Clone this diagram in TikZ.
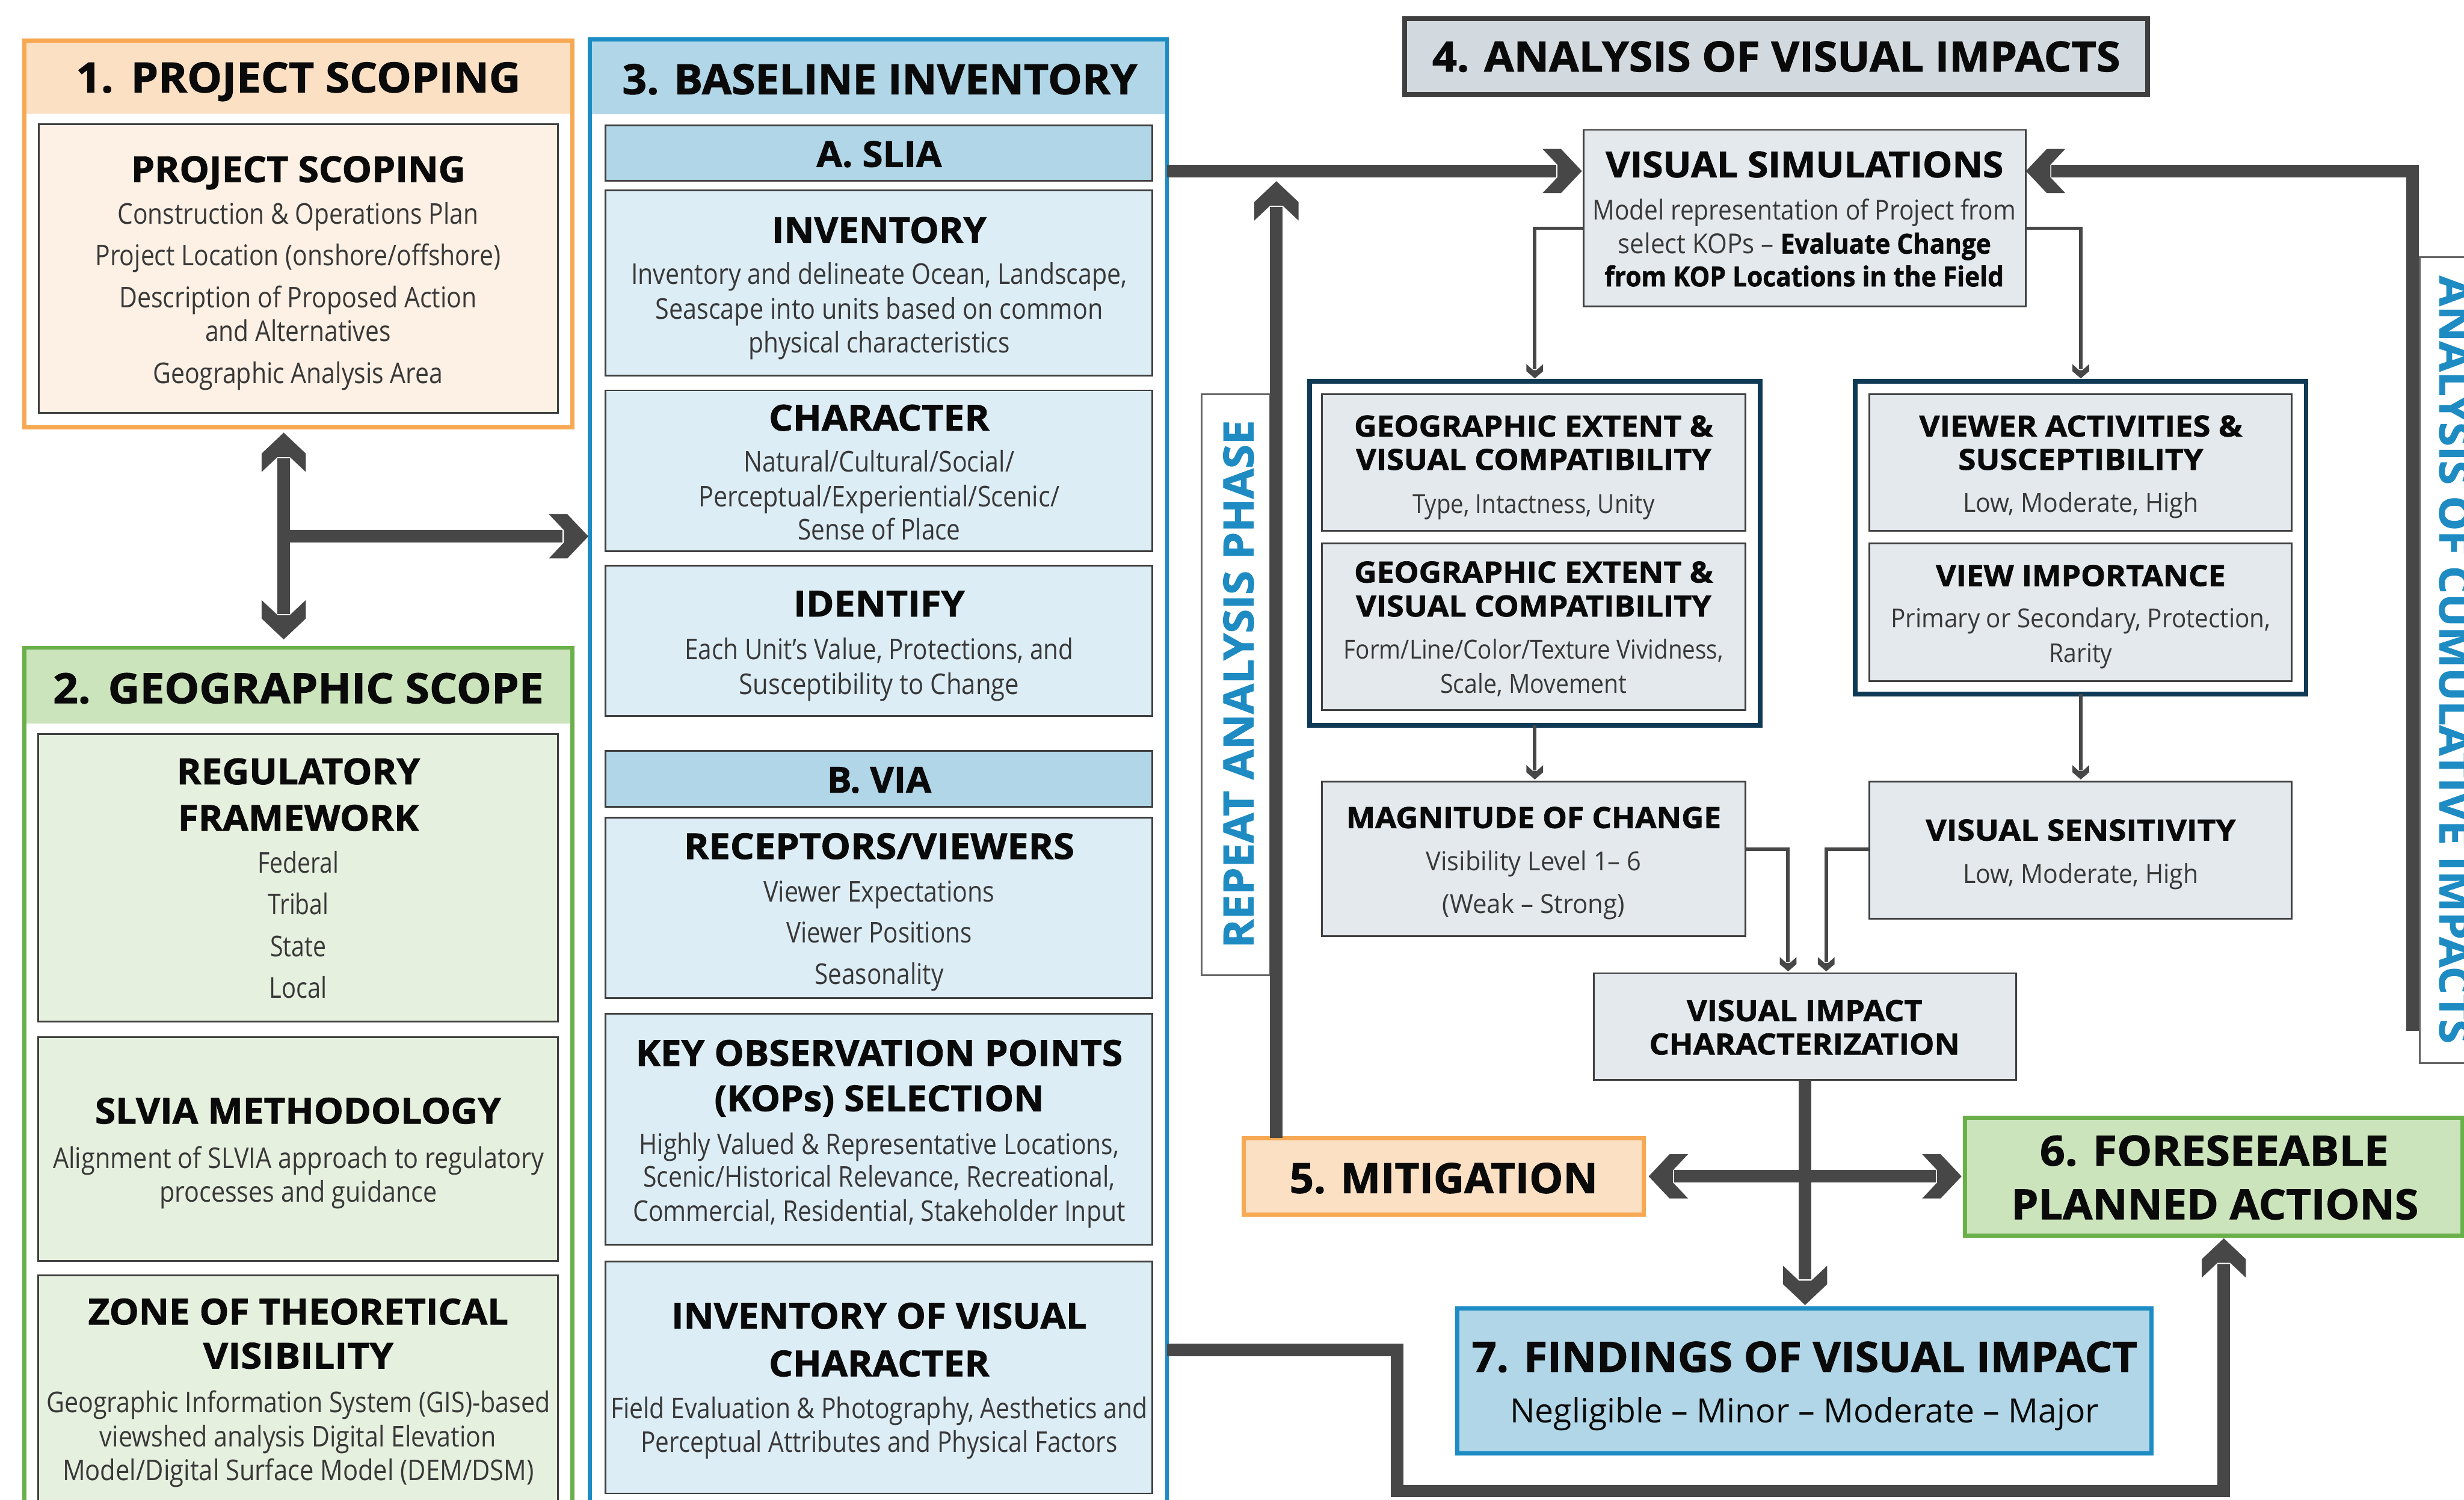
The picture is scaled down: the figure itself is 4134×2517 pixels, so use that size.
\documentclass[tikz,border=0pt]{standalone}
\usepackage{fontspec}
\setmainfont{Open Sans}[BoldFeatures={FakeBold=1.4}]
\usepackage{graphicx}
\usetikzlibrary{arrows.meta}
\definecolor{orgS}{HTML}{F6A852}
\definecolor{orgF}{HTML}{FBE0C4}
\definecolor{orgI}{HTML}{FDF0E4}
\definecolor{grnS}{HTML}{6AB04A}
\definecolor{grnF}{HTML}{CCE4BC}
\definecolor{grnI}{HTML}{E6F0DF}
\definecolor{bluS}{HTML}{1E8CC4}
\definecolor{bluF}{HTML}{B0D6E7}
\definecolor{bluI}{HTML}{DDEDF5}
\definecolor{gryF}{HTML}{E3E9EC}
\definecolor{gryT}{HTML}{D3DADF}
\definecolor{navy}{HTML}{0F3A55}
\definecolor{arr}{HTML}{474747}
\definecolor{edge}{HTML}{3F3F3F}
\definecolor{txtc}{HTML}{0A0A0A}
\definecolor{bodyc}{HTML}{383838}
\definecolor{vblue}{HTML}{1E8BC3}

\pgfdeclarearrow{
  name = BigChev,
  setup code = {
    \pgfarrowssettipend{0pt}
    \pgfarrowssetlineend{-43pt}
    \pgfarrowssetvisualbackend{-66pt}
    \pgfarrowssetbackend{-66pt}
    \pgfarrowshullpoint{0pt}{0pt}
    \pgfarrowsupperhullpoint{-66pt}{37pt}
  },
  drawing code = {
    \pgfpathmoveto{\pgfpoint{0pt}{0pt}}
    \pgfpathlineto{\pgfpoint{-35pt}{37pt}}
    \pgfpathlineto{\pgfpoint{-66pt}{37pt}}
    \pgfpathlineto{\pgfpoint{-41pt}{10.5pt}}
    \pgfpathlineto{\pgfpoint{-41pt}{-10.5pt}}
    \pgfpathlineto{\pgfpoint{-66pt}{-37pt}}
    \pgfpathlineto{\pgfpoint{-35pt}{-37pt}}
    \pgfpathclose
    \pgfusepathqfill
  }
}
\pgfdeclarearrow{
  name = SmallChev,
  setup code = {
    \pgfarrowssettipend{0pt}
    \pgfarrowssetlineend{-15pt}
    \pgfarrowssetvisualbackend{-24pt}
    \pgfarrowssetbackend{-24pt}
    \pgfarrowshullpoint{0pt}{0pt}
    \pgfarrowsupperhullpoint{-24pt}{14pt}
  },
  drawing code = {
    \pgfpathmoveto{\pgfpoint{0pt}{0pt}}
    \pgfpathlineto{\pgfpoint{-12pt}{14pt}}
    \pgfpathlineto{\pgfpoint{-24pt}{14pt}}
    \pgfpathlineto{\pgfpoint{-14pt}{3pt}}
    \pgfpathlineto{\pgfpoint{-14pt}{-3pt}}
    \pgfpathlineto{\pgfpoint{-24pt}{-14pt}}
    \pgfpathlineto{\pgfpoint{-12pt}{-14pt}}
    \pgfpathclose
    \pgfusepathqfill
  }
}

\newcommand{\fitw}[2]{\resizebox{#1pt}{\height}{#2}}
\newcommand{\mytext}[6]{\node[tx,#1] (#2) at (#3,#4) {\fitw{#5}{#6}};}
\newcommand{\mybox}[6]{\node[bx,#1,minimum width={(#5-#3)*1pt},minimum height={(#6-#4)*1pt}] (#2) at (#3,#4) {};}

\tikzset{
  bx/.style={rectangle,anchor=north west,inner sep=0pt,outer sep=0pt},
  tx/.style={anchor=base,inner sep=0pt,outer sep=0pt,text=txtc},
  ib/.style={draw=edge,line width=3pt},
  gb/.style={draw=edge,line width=3pt,fill=gryF},
  hA/.style={font=\fontsize{70}{80}\selectfont\bfseries},
  hB/.style={font=\fontsize{60}{70}\selectfont\bfseries},
  hC/.style={font=\fontsize{49}{58}\selectfont\bfseries},
  bA/.style={font=\fontsize{48}{56}\selectfont,text=bodyc},
  bB/.style={font=\fontsize{46}{54}\selectfont,text=bodyc},
  bC/.style={font=\fontsize{44}{52}\selectfont,text=bodyc},
  bD/.style={font=\fontsize{56}{64}\selectfont},
  vt/.style={anchor=center,inner sep=0pt,text=vblue,font=\fontsize{70}{80}\selectfont\bfseries},
  thk/.style={color=arr,line width=21pt,-BigChev},
  thn/.style={color=arr,line width=6pt,-SmallChev}
}

\begin{document}
\begin{tikzpicture}[x=1pt,y=-1pt]
\useasboundingbox (0,0) rectangle (4134,2517);
\clip (0,0) rectangle (4134,2517);

% ---------- column boxes ----------
\mybox{fill=orgF}{o1h}{41}{68}{960}{191}
\mybox{fill=grnF}{g2h}{41}{1087}{960}{1214}
\mybox{fill=bluF}{b3h}{990}{66}{1958}{192}
\mybox{draw=orgS,line width=7pt}{o1}{41}{68}{960}{717}
\mybox{draw=grnS,line width=7pt}{g2}{41}{1087}{960}{2620}
\mybox{draw=bluS,line width=7pt}{b3}{990}{66}{1958}{2620}

\mybox{ib,fill=orgI}{o1i}{65}{208}{936}{693}
\mybox{ib,fill=grnI}{reg}{64}{1232}{936}{1714}
\mybox{ib,fill=grnI}{slv}{64}{1740}{936}{2116}
\mybox{ib,fill=grnI}{ztv}{64}{2140}{936}{2620}

\mybox{ib,fill=bluF}{slia}{1016}{210}{1933}{303}
\mybox{ib,fill=bluI}{inv}{1016}{319}{1933}{630}
\mybox{ib,fill=bluI}{chr}{1016}{655}{1933}{925}
\mybox{ib,fill=bluI}{idf}{1016}{949}{1933}{1202}
\mybox{ib,fill=bluF}{via}{1016}{1260}{1933}{1354}
\mybox{ib,fill=bluI}{rcp}{1016}{1372}{1933}{1675}
\mybox{ib,fill=bluI}{kop}{1016}{1701}{1933}{2089}
\mybox{ib,fill=bluI}{ivc}{1016}{2117}{1933}{2506}

% ---------- right side boxes ----------
\mybox{draw=edge,line width=8pt,fill=gryT}{t4}{2357}{31}{3603}{158}
\mybox{gb}{vs}{2657}{218}{3399}{514}
\mybox{draw=navy,line width=8pt,fill=white}{geoO}{2197}{640}{2953}{1217}
\mybox{gb}{geoA}{2218}{662}{2928}{891}
\mybox{gb}{geoB}{2218}{912}{2928}{1191}
\mybox{draw=navy,line width=8pt,fill=white}{viewO}{3113}{640}{3869}{1165}
\mybox{gb}{viewA}{3136}{662}{3845}{891}
\mybox{gb}{viewB}{3136}{912}{3845}{1143}
\mybox{gb}{moc}{2218}{1312}{2928}{1571}
\mybox{gb}{vsn}{3136}{1312}{3845}{1542}
\mybox{gb}{vic}{2674}{1633}{3383}{1812}
\mybox{draw=orgS,line width=7pt,fill=orgF}{mit}{2087}{1910}{2758}{2038}
\mybox{draw=grnS,line width=7pt,fill=grnF}{fore}{3297}{1876}{4131}{2074}
\mybox{draw=bluS,line width=7pt,fill=bluF}{find}{2445}{2196}{3610}{2439}
\mybox{draw=edge!80,line width=3pt,fill=white}{rep}{2016}{662}{2131}{1637}
\mybox{draw=edge!80,line width=3pt,fill=white}{cum}{4060}{431}{4200}{1784}

% ---------- coordinates ----------
\coordinate (jx) at (476,900);
\coordinate (yT) at (0,287);
\coordinate (cumEnd) at (4048,1730);
\coordinate (cumC) at (4048,287);
\coordinate (repTip) at (2141.5,304);
\coordinate (k0) at (0,2265);
\coordinate (k1) at (2344,2265);
\coordinate (k2) at (2344,2502);
\coordinate (k3) at (3731,2502);
\coordinate (yS) at (0,383);
\coordinate (yM) at (0,1425);
\coordinate (xA) at (3000,0);
\coordinate (xB) at (3064,0);

% ---------- thick connectors ----------
\draw[thk,BigChev-BigChev,shorten <=9pt,shorten >=14pt] (o1.south -| jx) -- (g2.north -| jx);
\draw[thk,shorten >=3pt] (jx) -- (b3.west |- jx);
\draw[thk,shorten >=3pt] (b3.east |- yT) -- (vs.west |- yT);
\draw[thk] (cumEnd) -- (cumC) -- (vs.east |- yT);
\draw[thk] (mit.north -| repTip) -- (repTip);
\draw[thk,shorten >=6pt] (vic.south) -- (vic.south |- find.north);
\draw[thk,BigChev-BigChev,shorten <=8pt,shorten >=6pt] (mit.east) -- (mit.east -| fore.west);
\draw[thk,shorten >=4pt] (b3.east |- k0) -- (k1) -- (k2) -- (k3) -- (fore.south -| k3);

% ---------- thin connectors ----------
\draw[thn,shorten >=5pt] (vs.west |- yS) -| (geoO.north);
\draw[thn,shorten >=5pt] (vs.east |- yS) -| (viewO.north);
\draw[thn,shorten >=4pt] (geoO.south) -- (geoO.south |- moc.north);
\draw[thn,shorten >=4pt] (viewO.south) -- (viewO.south |- vsn.north);
\draw[thn,shorten >=3pt] (moc.east |- yM) -| (vic.north -| xA);
\draw[thn,shorten >=3pt] (vsn.west |- yM) -| (vic.north -| xB);

% ---------- texts: column 1 ----------
\mytext{hA}{t1}{500.5}{155}{746}{1.\hspace{0.4em}PROJECT SCOPING}
\mytext{hB}{t1b}{500.5}{305.5}{561}{PROJECT SCOPING}
\mytext{bA}{t1c}{500}{376}{605}{Construction \& Operations Plan}
\mytext{bA}{t1d}{500}{446}{680}{Project Location (onshore/offshore)}
\mytext{bA}{t1e}{500}{516}{600}{Description of Proposed Action}
\mytext{bA}{t1f}{500}{573}{311}{and Alternatives}
\mytext{bA}{t1g}{500}{643}{487}{Geographic Analysis Area}

\mytext{hA}{t2}{500.5}{1180}{823}{2.\hspace{0.4em}GEOGRAPHIC SCOPE}
\mytext{hB}{t2a}{500.5}{1316}{408}{REGULATORY}
\mytext{hB}{t2b}{500.5}{1394}{404}{FRAMEWORK}
\mytext{bA}{t2c}{500.5}{1465}{136}{Federal}
\mytext{bA}{t2d}{500.5}{1535}{102}{Tribal}
\mytext{bA}{t2e}{500.5}{1605}{94}{State}
\mytext{bA}{t2f}{500.5}{1675}{97}{Local}
\mytext{hB}{t2g}{500}{1885.5}{681}{SLVIA METHODOLOGY}
\mytext{bA}{t2h}{501}{1960}{824}{Alignment of SLVIA approach to regulatory}
\mytext{bA}{t2i}{500.5}{2017}{466}{processes and guidance}
\mytext{hB}{t2j}{500.5}{2222.5}{705}{ZONE OF THEORETICAL}
\mytext{hB}{t2k}{500.5}{2296.5}{319}{VISIBILITY}
\mytext{bA}{t2l}{500.5}{2370}{845}{Geographic Information System (GIS)-based}
\mytext{bA}{t2m}{500}{2428}{665}{viewshed analysis Digital Elevation}
\mytext{bA}{t2n}{500.5}{2484}{791}{Model/Digital Surface Model (DEM/DSM)}

% ---------- texts: column 3 ----------
\mytext{hA}{t3}{1476}{158}{864}{3. BASELINE INVENTORY}
\mytext{hB}{t3a}{1475}{280}{210}{A. SLIA}
\mytext{hB}{t3b}{1475}{407.5}{360}{INVENTORY}
\mytext{bA}{t3c}{1475}{477}{832}{Inventory and delineate Ocean, Landscape,}
\mytext{bA}{t3d}{1475}{535}{751}{Seascape into units based on common}
\mytext{bA}{t3e}{1475}{592}{438}{physical characteristics}
\mytext{hB}{t3f}{1475}{722.5}{370}{CHARACTER}
\mytext{bA}{t3g}{1475}{792}{454}{Natural/Cultural/Social/}
\mytext{bA}{t3h}{1475}{850}{605}{Perceptual/Experiential/Scenic/}
\mytext{bA}{t3i}{1475}{906}{273}{Sense of Place}
\mytext{hB}{t3j}{1475}{1034.5}{287}{IDENTIFY}
\mytext{bA}{t3k}{1475}{1107}{652}{Each Unit’s Value, Protections, and}
\mytext{bA}{t3l}{1475}{1165}{470}{Susceptibility to Change}
\mytext{hB}{t3m}{1475}{1330}{175}{B. VIA}
\mytext{hB}{t3n}{1475}{1441.5}{655}{RECEPTORS/VIEWERS}
\mytext{bA}{t3o}{1475}{1513}{388}{Viewer Expectations}
\mytext{bA}{t3p}{1475}{1582}{311}{Viewer Positions}
\mytext{bA}{t3q}{1475}{1652}{216}{Seasonality}
\mytext{hB}{t3r}{1475}{1788.5}{817}{KEY OBSERVATION POINTS}
\mytext{hB}{t3s}{1475}{1864.5}{553}{(KOPs) SELECTION}
\mytext{bA}{t3t}{1475}{1937}{805}{Highly Valued \& Representative Locations,}
\mytext{bA}{t3u}{1475}{1992}{792}{Scenic/Historical Relevance, Recreational,}
\mytext{bA}{t3v}{1475}{2049}{826}{Commercial, Residential, Stakeholder Input}
\mytext{hB}{t3w}{1475}{2229.5}{697}{INVENTORY OF VISUAL}
\mytext{hB}{t3x}{1475}{2309.5}{370}{CHARACTER}
\mytext{bA}{t3y}{1475}{2380}{901}{Field Evaluation \& Photography, Aesthetics and}
\mytext{bA}{t3z}{1475}{2437}{800}{Perceptual Attributes and Physical Factors}

% ---------- texts: right side ----------
\mytext{hA}{t4a}{2980}{120}{1154}{4. ANALYSIS OF VISUAL IMPACTS}
\mytext{hB}{vsa}{3027.5}{297.5}{667}{VISUAL SIMULATIONS}
\mytext{bB}{vsb}{3027}{368.5}{710}{Model representation of Project from}
\mytext{bB}{vsc}{3027.5}{425.5}{626}{select KOPs – \textcolor{txtc}{\bfseries Evaluate Change}}
\mytext{bB,text=txtc}{vsd}{3027}{480.5}{670}{\bfseries from KOP Locations in the Field}

\mytext{hC}{ga1}{2573}{732.5}{602}{GEOGRAPHIC EXTENT \&}
\mytext{hC}{ga2}{2573}{788.5}{596}{VISUAL COMPATIBILITY}
\mytext{bC}{ga3}{2573}{861.5}{406}{Type, Intactness, Unity}
\mytext{hC}{gb1}{2573}{977.5}{602}{GEOGRAPHIC EXTENT \&}
\mytext{hC}{gb2}{2573}{1034.5}{596}{VISUAL COMPATIBILITY}
\mytext{bC}{gb3}{2573}{1105.5}{637}{Form/Line/Color/Texture Vividness,}
\mytext{bC}{gb4}{2573}{1163.5}{313}{Scale, Movement}

\mytext{hC}{va1}{3491}{732.5}{542}{VIEWER ACTIVITIES \&}
\mytext{hC}{va2}{3491}{788.5}{411}{SUSCEPTIBILITY}
\mytext{bC}{va3}{3491}{859.5}{395}{Low, Moderate, High}
\mytext{hC}{vb1}{3491}{983.5}{486}{VIEW IMPORTANCE}
\mytext{bC}{vb2}{3491}{1053.5}{637}{Primary or Secondary, Protection,}
\mytext{bC}{vb3}{3491}{1111.5}{106}{Rarity}

\mytext{hC}{mc1}{2573}{1389.5}{629}{MAGNITUDE OF CHANGE}
\mytext{bC}{mc2}{2573}{1460.5}{361}{Visibility Level 1– 6}
\mytext{bC}{mc3}{2573}{1532.5}{306}{(Weak – Strong)}
\mytext{hC}{sn1}{3491}{1410.5}{520}{VISUAL SENSITIVITY}
\mytext{bC}{sn2}{3491}{1482.5}{395}{Low, Moderate, High}
\mytext{hC}{vc1}{3027.5}{1713.5}{395}{VISUAL IMPACT}
\mytext{hC}{vc2}{3027.5}{1769.5}{521}{CHARACTERIZATION}

\mytext{hA}{mt}{2422}{2002}{517}{5. MITIGATION}
\mytext{hA}{fr1}{3715}{1956}{585}{6. FORESEEABLE}
\mytext{hA}{fr2}{3716}{2046}{683}{PLANNED ACTIONS}
\mytext{hA}{fd1}{3027.5}{2302}{1116}{7. FINDINGS OF VISUAL IMPACT}
\mytext{bD}{fd2}{3027.5}{2387}{988}{Negligible – Minor – Moderate – Major}

% ---------- vertical labels ----------
\node[vt,rotate=90] (reptxt) at (2078,1148) {\fitw{886}{REPEAT ANALYSIS PHASE}};
\node[vt,rotate=-90] (cumtxt) at (4118,1107) {\fitw{1288}{ANALYSIS OF CUMULATIVE IMPACTS}};
\end{tikzpicture}
\end{document}
